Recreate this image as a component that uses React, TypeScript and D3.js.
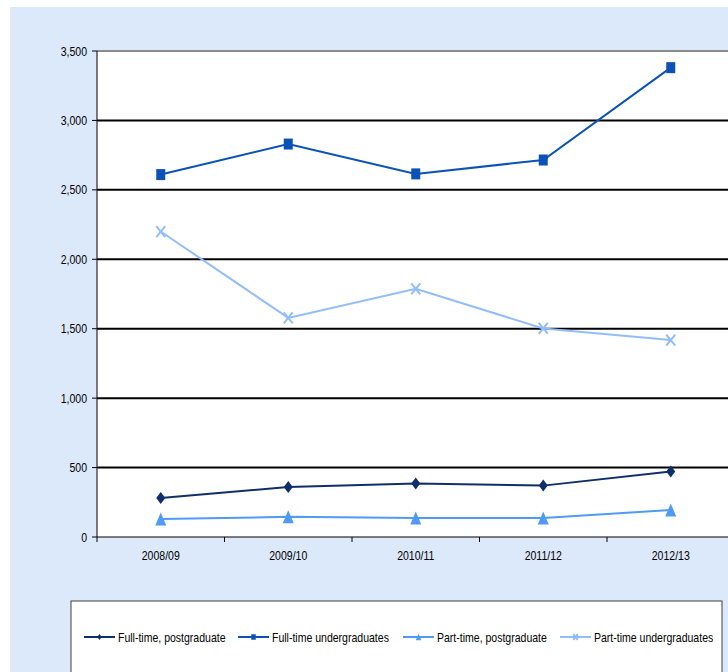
import React from "react";
import * as d3 from "d3";

const years = ["2008/09", "2009/10", "2010/11", "2011/12", "2012/13"];
const ftPostgrad = [280, 360, 385, 370, 472];
const ftUndergrad = [2610, 2830, 2615, 2715, 3380];
const ptPostgrad = [130, 145, 137, 137, 195];
const ptUndergrad = [2200, 1578, 1787, 1502, 1418];
const yTicks = [0, 500, 1000, 1500, 2000, 2500, 3000, 3500];
const seriesNames = [
  "Full-time, postgraduate",
  "Full-time undergraduates",
  "Part-time, postgraduate",
  "Part-time undergraduates",
];

const W = 728;
const H = 672;
const plotL = 97;
const plotT = 51;
const plotB = 537;
const plotR = 97 + 5 * 127.5;
const SX = 0.81;
const FONT = "'Liberation Sans', Arial, sans-serif";

type Shape = "diamond" | "square" | "triangle" | "x";
const series: { name: string; values: number[]; color: string; shape: Shape }[] = [
  { name: seriesNames[0], values: ftPostgrad, color: "#0f2f6b", shape: "diamond" },
  { name: seriesNames[1], values: ftUndergrad, color: "#0b52b8", shape: "square" },
  { name: seriesNames[2], values: ptPostgrad, color: "#4f9af7", shape: "triangle" },
  { name: seriesNames[3], values: ptUndergrad, color: "#92bdfc", shape: "x" },
];

function Marker({ shape, x, y, color, s }: { shape: Shape; x: number; y: number; color: string; s: number }) {
  if (shape === "diamond") {
    const w = 4.5 * s, h = 6 * s;
    return <path d={`M${x},${y - h}L${x + w},${y}L${x},${y + h}L${x - w},${y}Z`} fill={color} />;
  }
  if (shape === "square") {
    const w = 4.5 * s, h = 5.5 * s;
    return <rect x={x - w} y={y - h} width={2 * w} height={2 * h} fill={color} />;
  }
  if (shape === "triangle") {
    const w = 5.5 * s, h = 6.5 * s;
    return <path d={`M${x},${y - h}L${x + w},${y + h}L${x - w},${y + h}Z`} fill={color} />;
  }
  const w = 4.5 * s, h = 5.5 * s;
  return (
    <path
      d={`M${x - w},${y - h}L${x + w},${y + h}M${x + w},${y - h}L${x - w},${y + h}`}
      stroke={color}
      strokeWidth={2}
      fill="none"
    />
  );
}

export default function App() {
  const x = d3.scaleBand<string>().domain(years).range([plotL, plotR]);
  const y = d3.scaleLinear().domain([0, 3500]).range([plotB, plotT]);
  const cx = (c: string) => (x(c) as number) + x.bandwidth() / 2;
  const line = d3
    .line<number>()
    .x((_, i) => cx(years[i]))
    .y((v) => y(v));

  const legendX = [84, 238, 403, 560];
  const legendY = 637;

  return (
    <svg
      width={W}
      height={H}
      style={{ position: "absolute", left: 0, top: 0, display: "block" }}
      fontFamily={FONT}
    >
      <rect x={0} y={0} width={W} height={H} fill="#ffffff" />
      <rect x={10} y={7} width={W - 10} height={H - 7} fill="#dce9fb" />
      <rect x={plotL} y={plotT} width={plotR - plotL} height={plotB - plotT} fill="#ffffff" />

      {yTicks.map((t) => (
        <g key={t}>
          {t > 0 && (
            <line
              x1={plotL}
              x2={plotR}
              y1={y(t)}
              y2={y(t)}
              stroke={t === 3500 ? "#8a8a8a" : "#000000"}
              strokeWidth={2}
            />
          )}
          <line x1={plotL - 5} x2={plotL} y1={y(t)} y2={y(t)} stroke="#000" strokeWidth={1} />
          <text
            transform={`translate(${plotL - 10},${y(t) + 4.5}) scale(${SX},1)`}
            textAnchor="end"
            fontSize={13}
            fill="#000"
          >
            {d3.format(",")(t)}
          </text>
        </g>
      ))}

      <line x1={plotL} x2={plotL} y1={plotT} y2={plotB} stroke="#000" strokeWidth={1} />
      <line x1={plotL} x2={plotR} y1={plotB} y2={plotB} stroke="#000" strokeWidth={1} />
      {years.map((c, i) => (
        <g key={c}>
          <line
            x1={(x(c) as number)}
            x2={(x(c) as number)}
            y1={plotB}
            y2={plotB + 5}
            stroke="#000"
          />
          <text
            transform={`translate(${cx(c)},${plotB + 23}) scale(${SX},1)`}
            textAnchor="middle"
            fontSize={13}
            fill="#000"
          >
            {c}
          </text>
        </g>
      ))}

      {series.map((s) => (
        <g key={s.name}>
          <path d={line(s.values) || ""} fill="none" stroke={s.color} strokeWidth={2} />
          {s.values.map((v, i) => (
            <Marker key={i} shape={s.shape} x={cx(years[i])} y={y(v)} color={s.color} s={1} />
          ))}
        </g>
      ))}

      <rect x={71} y={601} width={651} height={90} fill="#ffffff" stroke="#404040" strokeWidth={1} />
      {series.map((s, i) => (
        <g key={s.name}>
          <line x1={legendX[i]} x2={legendX[i] + 31} y1={legendY} y2={legendY} stroke={s.color} strokeWidth={2} />
          <Marker shape={s.shape} x={legendX[i] + 15.5} y={legendY} color={s.color} s={0.5} />
          <text
            transform={`translate(${legendX[i] + 34},${legendY + 4.5}) scale(${SX},1)`}
            fontSize={13}
            fill="#000"
          >
            {s.name}
          </text>
        </g>
      ))}
    </svg>
  );
}
